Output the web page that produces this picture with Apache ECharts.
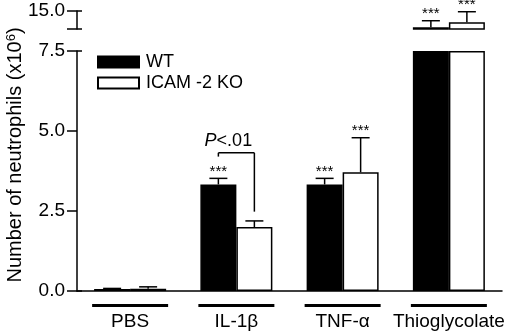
<!DOCTYPE html>
<html>
<head>
<meta charset="utf-8">
<script src="https://cdn.jsdelivr.net/npm/echarts@6/dist/echarts.min.js"></script>
<style>
  html, body { margin: 0; padding: 0; background: #fff; }
  #chart { width: 520px; height: 336px; }
</style>
</head>
<body>
<div id="chart"></div>
<script>
// data (x10^6 neutrophils)
const categories = ['PBS', 'IL-1β', 'TNF-α', 'Thioglycolate'];
const wtMean = [0.06, 3.33, 3.33, 10.5];
const wtErr = [0.02, 0.19, 0.19, 1.8];
const koMean = [0.07, 2.0, 3.71, 11.9];
const koErr = [0.06, 0.19, 1.08, 2.9];
const wtStars = ['', '***', '***', '***'];
const koStars = ['', '', '***', '***'];
// broken axis: lower and upper segment
const lowerRange = [0, 7.5];
const upperRange = [10, 15];
// P bracket between WT and KO for IL-1b
const bracket = { cat: 1, top: 4.32, leftEnd: 4.2, rightEnd: 2.48, label: 4.7 };

const FONT = 'Liberation Sans, Arial, Helvetica, sans-serif';
const BAR_W = 36;

const chart = echarts.init(document.getElementById('chart'));

// bar values per segment
const lowerVals = arr => arr.map(v => Math.min(v, lowerRange[1]));
const upperVals = arr => arr.map(v => v > lowerRange[1] ? v : '-');
const errData = (means, errs, upper) => means
  .map((m, i) => [i, m, errs[i]])
  .filter(d => upper ? d[1] > lowerRange[1] : d[1] <= lowerRange[1]);

// error bar (upper half only) + significance stars
function errRender(offset, stars) {
  return function (params, api) {
    const i = api.value(0);
    const base = api.coord([i, api.value(1)]);
    const top = api.coord([i, api.value(1) + api.value(2)]);
    const x = base[0] + offset;
    const st = { stroke: '#000', lineWidth: 1.5 };
    const children = [
      { type: 'line', shape: { x1: x, y1: base[1], x2: x, y2: top[1] }, style: st },
      { type: 'line', shape: { x1: x - 9, y1: top[1], x2: x + 9, y2: top[1] }, style: st }
    ];
    if (stars[i]) {
      children.push({
        type: 'text',
        style: {
          x: x, y: top[1] + 1, text: stars[i], fill: '#000',
          font: '15px ' + FONT, textAlign: 'center', textVerticalAlign: 'bottom'
        }
      });
    }
    return { type: 'group', children: children };
  };
}

function bracketRender(params, api) {
  const i = api.value(0);
  const y = api.coord([i, api.value(1)])[1];
  const yl = api.coord([i, api.value(2)])[1];
  const yr = api.coord([i, api.value(3)])[1];
  const yt = api.coord([i, api.value(4)])[1];
  const cx = api.coord([i, 0])[0];
  const xl = cx - BAR_W / 2, xr = cx + BAR_W / 2;
  const st = { stroke: '#000', lineWidth: 1.5 };
  return {
    type: 'group',
    children: [
      { type: 'line', shape: { x1: xl, y1: y, x2: xr, y2: y }, style: st },
      { type: 'line', shape: { x1: xl, y1: y, x2: xl, y2: yl }, style: st },
      { type: 'line', shape: { x1: xr, y1: y, x2: xr, y2: yr }, style: st },
      {
        type: 'text',
        style: {
          x: cx - 8, y: yt, text: '{i|P}{n|<.01}', fill: '#000',
          textAlign: 'center', textVerticalAlign: 'middle',
          rich: {
            i: { fontStyle: 'italic', fontSize: 18, fontFamily: FONT },
            n: { fontSize: 18, fontFamily: FONT }
          }
        }
      }
    ]
  };
}

const barStyleWT = { color: '#000', borderColor: '#000', borderWidth: 1.5 };
const barStyleKO = { color: '#fff', borderColor: '#000', borderWidth: 1.5 };
const axisLine = { show: true, lineStyle: { color: '#000', width: 1.5 } };

const option = {
  animation: false,
  textStyle: { fontFamily: FONT },
  grid: [
    { left: 77, right: 18, top: 51, bottom: 45 },
    { left: 77, right: 18, top: 11, height: 18 }
  ],
  legend: {
    data: ['WT', 'ICAM -2 KO'],
    orient: 'vertical',
    left: 92, top: 48,
    itemWidth: 41, itemHeight: 11, itemGap: 3,
    icon: 'rect',
    textStyle: { fontSize: 18, color: '#000', fontFamily: FONT, padding: [0, 0, 0, 2] }
  },
  xAxis: [
    {
      type: 'category', gridIndex: 0, data: categories,
      axisLine: axisLine, axisTick: { show: false },
      axisLabel: {
        margin: 13, interval: 0,
        formatter: v => '{line|}\n{name|' + v + '}',
        rich: {
          line: { width: 76, height: 3, lineHeight: 3, backgroundColor: '#000' },
          name: { fontSize: 19, color: '#000', fontFamily: FONT, lineHeight: 20, padding: [10, 0, 0, 0] }
        }
      }
    },
    { type: 'category', gridIndex: 1, data: categories, show: false }
  ],
  yAxis: [
    {
      type: 'value', gridIndex: 0, min: lowerRange[0], max: lowerRange[1], interval: 2.5,
      axisLine: axisLine,
      axisTick: { show: true, length: 10, lineStyle: { color: '#000', width: 1.5 } },
      axisLabel: { fontSize: 19, color: '#000', margin: 12, formatter: v => v.toFixed(1) },
      splitLine: { show: false }
    },
    {
      type: 'value', gridIndex: 0, position: 'left', min: lowerRange[0], max: lowerRange[1], interval: 7.5,
      axisLine: { show: false },
      axisTick: { show: true, inside: true, length: 5, lineStyle: { color: '#000', width: 1.5 } },
      axisLabel: { show: false }, splitLine: { show: false }
    },
    {
      type: 'value', gridIndex: 1, min: upperRange[0], max: upperRange[1], interval: 5,
      axisLine: axisLine,
      axisTick: { show: true, length: 10, lineStyle: { color: '#000', width: 1.5 } },
      axisLabel: { fontSize: 19, color: '#000', margin: 12, formatter: v => v === upperRange[1] ? v.toFixed(1) : '' },
      splitLine: { show: false }
    },
    {
      type: 'value', gridIndex: 1, position: 'left', min: upperRange[0], max: upperRange[1], interval: 5,
      axisLine: { show: false },
      axisTick: { show: true, inside: true, length: 5, lineStyle: { color: '#000', width: 1.5 } },
      axisLabel: { show: false }, splitLine: { show: false }
    }
  ],
  graphic: [{
    type: 'text', x: 15, y: 155, rotation: Math.PI / 2,
    style: {
      text: '{n|Number of neutrophils (x10}{sup|6}{n|)}', fill: '#000',
      textAlign: 'center', textVerticalAlign: 'middle',
      rich: {
        n: { fontSize: 20, fontFamily: FONT },
        sup: { fontSize: 13, verticalAlign: 'top', padding: [0, 0, 8, 0], fontFamily: FONT }
      }
    }
  }],
  series: [
    { name: 'WT', type: 'bar', xAxisIndex: 0, yAxisIndex: 0, data: lowerVals(wtMean),
      barWidth: BAR_W, barGap: '0%', clip: false, itemStyle: barStyleWT },
    { name: 'ICAM -2 KO', type: 'bar', xAxisIndex: 0, yAxisIndex: 0, data: lowerVals(koMean),
      barWidth: BAR_W, barGap: '0%', clip: false, itemStyle: barStyleKO },
    { name: 'WT', type: 'bar', xAxisIndex: 1, yAxisIndex: 2, data: upperVals(wtMean),
      barWidth: BAR_W, barGap: '0%', itemStyle: barStyleWT },
    { name: 'ICAM -2 KO', type: 'bar', xAxisIndex: 1, yAxisIndex: 2, data: upperVals(koMean),
      barWidth: BAR_W, barGap: '0%', itemStyle: barStyleKO },
    { type: 'custom', xAxisIndex: 0, yAxisIndex: 0, data: errData(wtMean, wtErr, false),
      renderItem: errRender(-BAR_W / 2, wtStars), z: 5 },
    { type: 'custom', xAxisIndex: 0, yAxisIndex: 0, data: errData(koMean, koErr, false),
      renderItem: errRender(BAR_W / 2, koStars), z: 5 },
    { type: 'custom', xAxisIndex: 1, yAxisIndex: 2, data: errData(wtMean, wtErr, true),
      renderItem: errRender(-BAR_W / 2, wtStars), z: 5 },
    { type: 'custom', xAxisIndex: 1, yAxisIndex: 2, data: errData(koMean, koErr, true),
      renderItem: errRender(BAR_W / 2, koStars), z: 5 },
    { type: 'custom', xAxisIndex: 0, yAxisIndex: 0,
      data: [[bracket.cat, bracket.top, bracket.leftEnd, bracket.rightEnd, bracket.label]],
      renderItem: bracketRender, z: 5 }
  ]
};

chart.setOption(option);
</script>
</body>
</html>
